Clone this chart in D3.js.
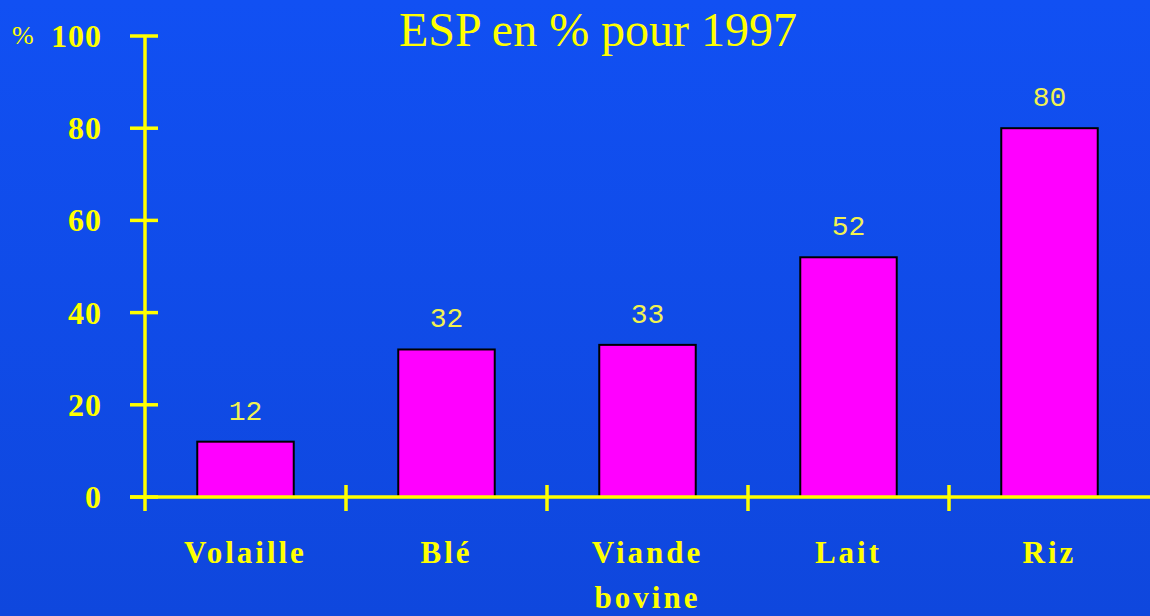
<!DOCTYPE html>
<html>
<head>
<meta charset="utf-8">
<script src="https://cdn.jsdelivr.net/npm/d3@7"></script>
<style>
  html, body { margin: 0; padding: 0; overflow: hidden; }
</style>
</head>
<body>
<div id="chart"></div>
<script>
// data
const categories = ["Volaille", "Blé", "Viande bovine", "Lait", "Riz"];
const values = [12, 32, 33, 52, 80];
const yTicks = [0, 20, 40, 60, 80, 100];
const title = "ESP en % pour 1997";

const width = 1150;
const height = 616;
const yellow = "#ffff00";

const svg = d3.select("#chart")
    .append("svg")
    .attr("width", width)
    .attr("height", height);

// background gradient
const grad = svg.append("defs").append("linearGradient")
    .attr("id", "bg")
    .attr("x1", 0).attr("y1", 0).attr("x2", 0).attr("y2", 1);
grad.append("stop").attr("offset", "0%").attr("stop-color", "#1150f3");
grad.append("stop").attr("offset", "100%").attr("stop-color", "#0f47dd");
svg.append("rect")
    .attr("width", width)
    .attr("height", height)
    .attr("fill", "url(#bg)");

// scales
const xScale = d3.scaleBand()
    .domain(categories)
    .range([145, 1150])
    .padding(0);

const yScale = d3.scaleLinear()
    .domain([0, 100])
    .range([497, 36]);

const x0 = xScale.range()[0];
const y0 = yScale(0);

// bars
const barFrac = 0.48;
const bw = xScale.bandwidth() * barFrac;
svg.selectAll("rect.bar")
    .data(categories)
    .enter()
    .append("rect")
    .attr("class", "bar")
    .attr("x", d => xScale(d) + (xScale.bandwidth() - bw) / 2)
    .attr("y", (d, i) => yScale(values[i]))
    .attr("width", bw)
    .attr("height", (d, i) => y0 - yScale(values[i]))
    .attr("fill", "#ff00ff")
    .attr("stroke", "#000")
    .attr("stroke-width", 2);

// value labels
svg.selectAll("text.val")
    .data(categories)
    .enter()
    .append("text")
    .attr("class", "val")
    .attr("x", d => xScale(d) + xScale.bandwidth() / 2)
    .attr("y", (d, i) => yScale(values[i]) - 22)
    .attr("text-anchor", "middle")
    .attr("font-family", "'Liberation Mono', monospace")
    .attr("font-size", 28)
    .attr("fill", "#f2f250")
    .text((d, i) => values[i]);

// y axis
svg.append("line")
    .attr("x1", x0).attr("x2", x0)
    .attr("y1", yScale(100)).attr("y2", y0 + 14)
    .attr("stroke", yellow).attr("stroke-width", 3.5);

svg.selectAll("line.ytick")
    .data(yTicks)
    .enter()
    .append("line")
    .attr("class", "ytick")
    .attr("x1", x0 - 15).attr("x2", x0 + 13)
    .attr("y1", d => yScale(d)).attr("y2", d => yScale(d))
    .attr("stroke", yellow).attr("stroke-width", 3.5);

svg.selectAll("text.ylab")
    .data(yTicks)
    .enter()
    .append("text")
    .attr("class", "ylab")
    .attr("x", 102)
    .attr("y", d => yScale(d) + 11)
    .attr("text-anchor", "end")
    .attr("font-family", "'Liberation Serif', serif")
    .attr("font-weight", "bold")
    .attr("font-size", 32)
    .attr("letter-spacing", 1)
    .attr("fill", yellow)
    .text(d => d);

svg.append("text")
    .attr("x", 12)
    .attr("y", 44)
    .attr("font-family", "'Liberation Serif', serif")
    .attr("font-size", 26)
    .attr("fill", yellow)
    .text("%");

// x axis
svg.append("line")
    .attr("x1", x0 - 15).attr("x2", width)
    .attr("y1", y0).attr("y2", y0)
    .attr("stroke", yellow).attr("stroke-width", 3.5);

svg.selectAll("line.xtick")
    .data(categories.slice(1))
    .enter()
    .append("line")
    .attr("class", "xtick")
    .attr("x1", d => xScale(d)).attr("x2", d => xScale(d))
    .attr("y1", y0 - 12).attr("y2", y0 + 14)
    .attr("stroke", yellow).attr("stroke-width", 3.5);

// category labels (wrapped)
const xlab = svg.selectAll("text.xlab")
    .data(categories)
    .enter()
    .append("text")
    .attr("class", "xlab")
    .attr("text-anchor", "middle")
    .attr("font-family", "'Liberation Serif', serif")
    .attr("font-weight", "bold")
    .attr("font-size", 31)
    .attr("letter-spacing", 3)
    .attr("fill", yellow);

xlab.each(function (d) {
    const words = d.split(" ");
    const t = d3.select(this);
    words.forEach((w, i) => {
        t.append("tspan")
            .attr("x", xScale(d) + xScale.bandwidth() / 2)
            .attr("y", 563 + i * 45)
            .text(w);
    });
});

// title
svg.append("text")
    .attr("x", 598)
    .attr("y", 46)
    .attr("text-anchor", "middle")
    .attr("font-family", "'Liberation Serif', serif")
    .attr("font-size", 48)
    .attr("fill", yellow)
    .text(title);
</script>
</body>
</html>
